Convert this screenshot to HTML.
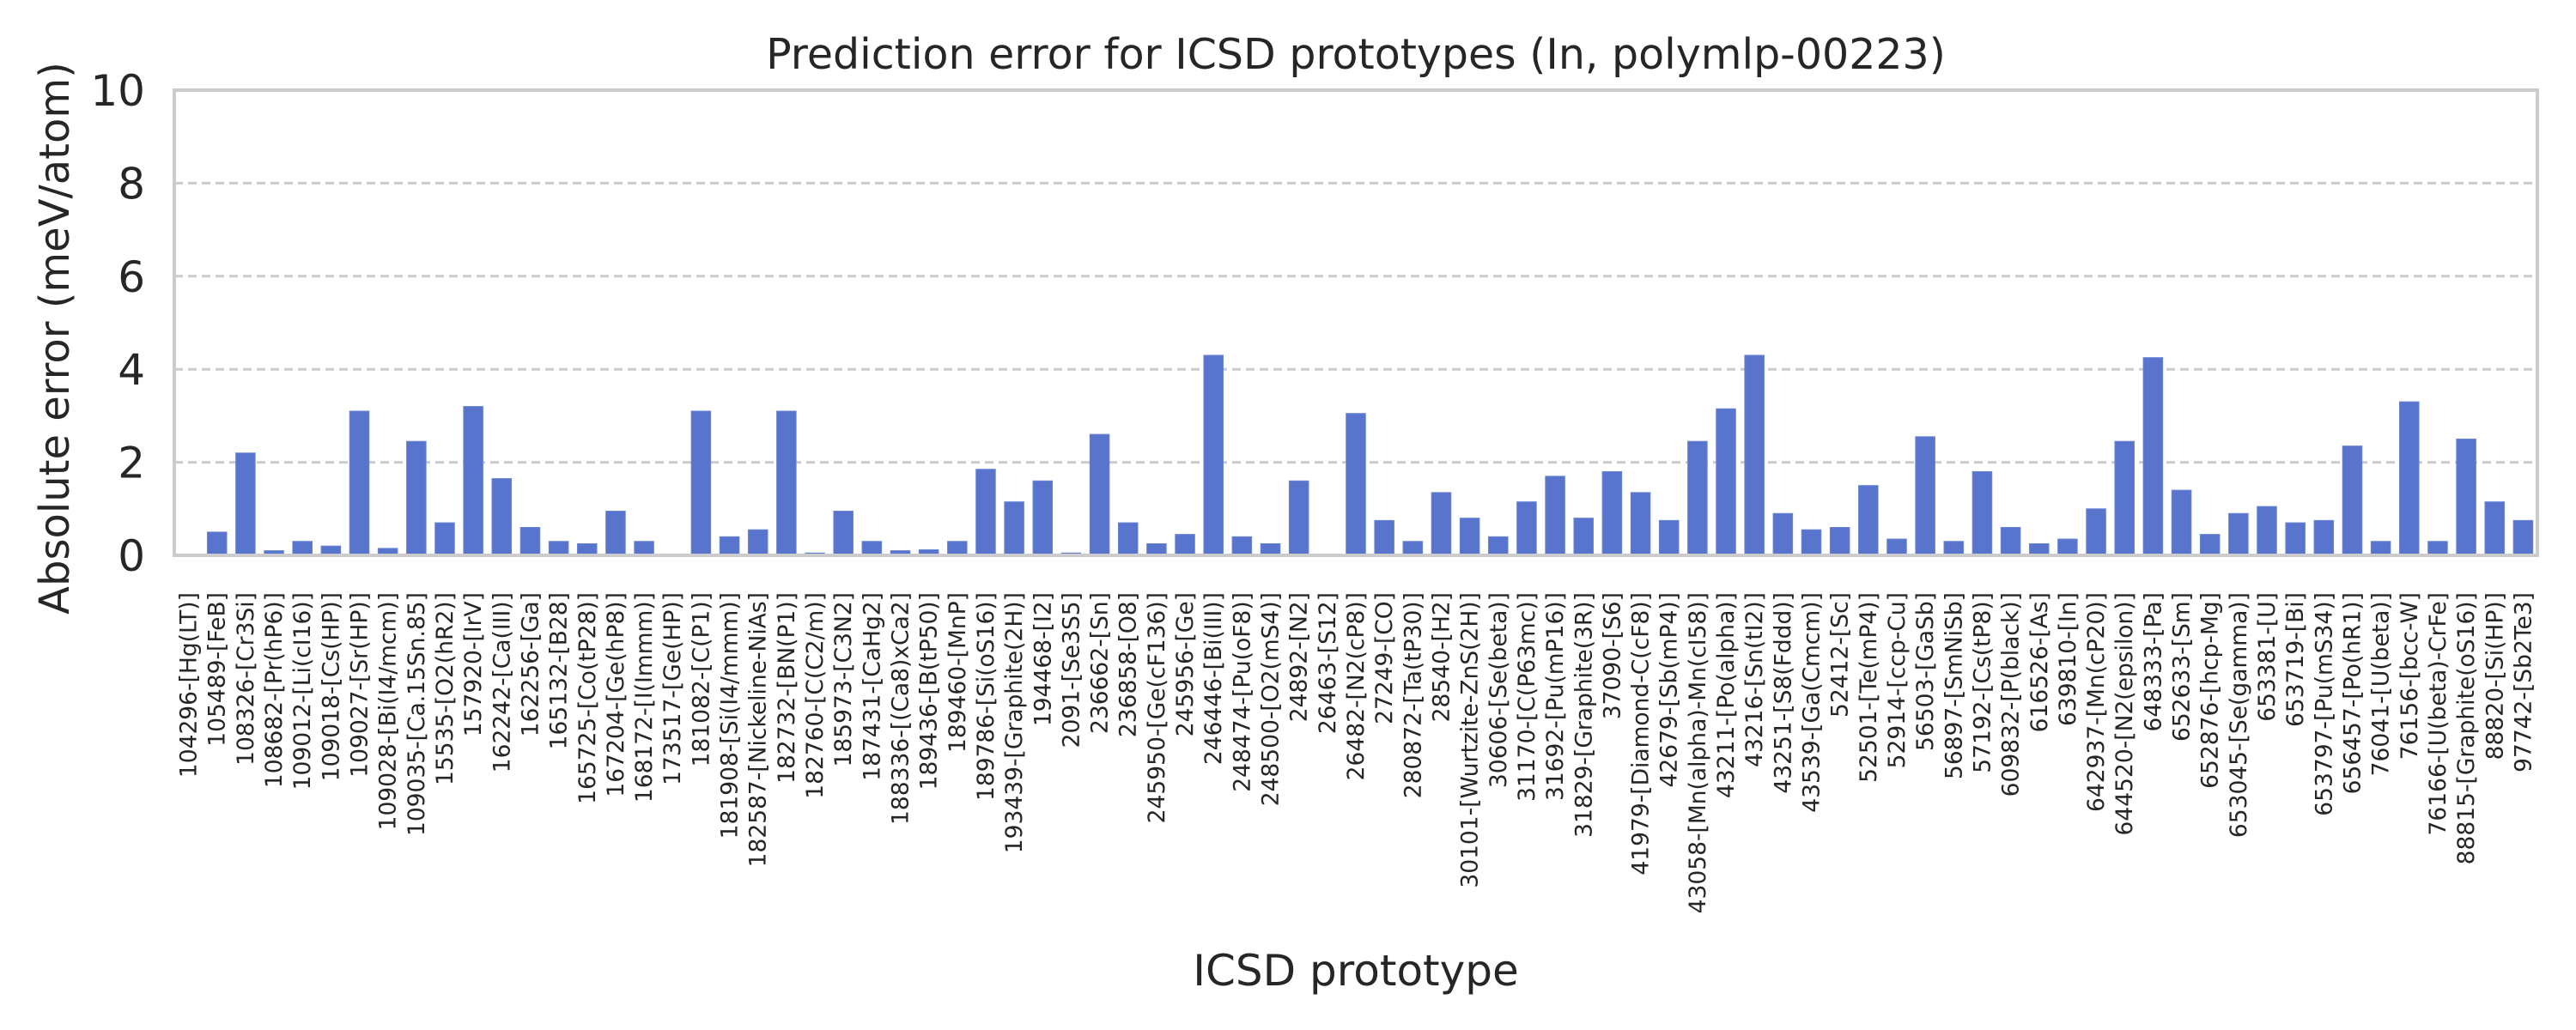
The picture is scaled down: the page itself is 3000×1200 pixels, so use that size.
<!DOCTYPE html>
<html><head><meta charset="utf-8"><style>
html,body{margin:0;padding:0;background:#fff;}
svg{display:block;font-family:"DejaVu Sans","Liberation Sans",sans-serif;}
</style></head><body>
<svg id="chart" width="3000" height="1200" viewBox="0 0 3000 1200" xmlns="http://www.w3.org/2000/svg">
<rect width="3000" height="1200" fill="#fff"/>
<text x="1579" y="80" font-size="49" fill="#262626" text-anchor="middle">Prediction error for ICSD prototypes (In, polymlp-00223)</text>
<text transform="translate(80,394) rotate(-90)" font-size="48" fill="#262626" text-anchor="middle">Absolute error (meV/atom)</text>
<text x="1579" y="1148" font-size="50" fill="#262626" text-anchor="middle">ICSD prototype</text>
<g id="grid"></g><g id="bars"></g><g id="yticks"></g><g id="xticks"></g>
<rect x="203" y="105" width="2752" height="542" fill="none" stroke="#cccccc" stroke-width="4"/>
</svg>
<script>
const categories = ["104296-[Hg(LT)]","105489-[FeB]","108326-[Cr3Si]","108682-[Pr(hP6)]","109012-[Li(cI16)]","109018-[Cs(HP)]","109027-[Sr(HP)]","109028-[Bi(I4/mcm)]","109035-[Ca.15Sn.85]","15535-[O2(hR2)]","157920-[IrV]","162242-[Ca(III)]","162256-[Ga]","165132-[B28]","165725-[Co(tP28)]","167204-[Ge(hP8)]","168172-[I(Immm)]","173517-[Ge(HP)]","181082-[C(P1)]","181908-[Si(I4/mmm)]","182587-[Nickeline-NiAs]","182732-[BN(P1)]","182760-[C(C2/m)]","185973-[C3N2]","187431-[CaHg2]","188336-[(Ca8)xCa2]","189436-[B(tP50)]","189460-[MnP]","189786-[Si(oS16)]","193439-[Graphite(2H)]","194468-[I2]","2091-[Se3S5]","236662-[Sn]","236858-[O8]","245950-[Ge(cF136)]","245956-[Ge]","246446-[Bi(III)]","248474-[Pu(oF8)]","248500-[O2(mS4)]","24892-[N2]","26463-[S12]","26482-[N2(cP8)]","27249-[CO]","280872-[Ta(tP30)]","28540-[H2]","30101-[Wurtzite-ZnS(2H)]","30606-[Se(beta)]","31170-[C(P63mc)]","31692-[Pu(mP16)]","31829-[Graphite(3R)]","37090-[S6]","41979-[Diamond-C(cF8)]","42679-[Sb(mP4)]","43058-[Mn(alpha)-Mn(cI58)]","43211-[Po(alpha)]","43216-[Sn(tI2)]","43251-[S8(Fddd)]","43539-[Ga(Cmcm)]","52412-[Sc]","52501-[Te(mP4)]","52914-[ccp-Cu]","56503-[GaSb]","56897-[SmNiSb]","57192-[Cs(tP8)]","609832-[P(black)]","616526-[As]","639810-[In]","642937-[Mn(cP20)]","644520-[N2(epsilon)]","648333-[Pa]","652633-[Sm]","652876-[hcp-Mg]","653045-[Se(gamma)]","653381-[U]","653719-[Bi]","653797-[Pu(mS34)]","656457-[Po(hR1)]","76041-[U(beta)]","76156-[bcc-W]","76166-[U(beta)-CrFe]","88815-[Graphite(oS16)]","88820-[Si(HP)]","97742-[Sb2Te3]"];
const errors = [0.01,0.5,2.2,0.1,0.3,0.2,3.1,0.15,2.45,0.7,3.2,1.65,0.6,0.3,0.25,0.95,0.3,0.02,3.1,0.4,0.55,3.1,0.05,0.95,0.3,0.1,0.12,0.3,1.85,1.15,1.6,0.05,2.6,0.7,0.25,0.45,4.3,0.4,0.25,1.6,0.02,3.05,0.75,0.3,1.35,0.8,0.4,1.15,1.7,0.8,1.8,1.35,0.75,2.45,3.15,4.3,0.9,0.55,0.6,1.5,0.35,2.55,0.3,1.8,0.6,0.25,0.35,1.0,2.45,4.25,1.4,0.45,0.9,1.05,0.7,0.75,2.35,0.3,3.3,0.3,2.5,1.15,0.75];
const yTicks = [0,2,4,6,8,10];

const NS = "http://www.w3.org/2000/svg";
const L = 203, R = 2955, T = 105, B = 647, yMax = 10;
const band = (R - L) / categories.length;
function xCenter(i){ return L + band * (i + 0.5); }
function yPos(v){ return B - (v / yMax) * (B - T); }
function mk(tag, attrs, parent){ const e = document.createElementNS(NS, tag); for (const k in attrs) e.setAttribute(k, attrs[k]); parent.appendChild(e); return e; }

const grid = document.getElementById('grid');
const yt = document.getElementById('yticks');
yTicks.forEach(v => {
  if (v > 0 && v < yMax) {
    const ln = mk('line', {x1:L, x2:R, y1:yPos(v), y2:yPos(v), stroke:'#cccccc', 'stroke-width':3, 'stroke-dasharray':'10,6'}, grid);
    
    
  }
  const t = mk('text', {x:L - 34, y:yPos(v) + 18, 'font-size':50, fill:'#262626', 'text-anchor':'end'}, yt);
  t.textContent = v;
  
  
});

const bars = document.getElementById('bars');
const xt = document.getElementById('xticks');
const bw = band * 0.68;
categories.forEach((c, i) => {
  const v = errors[i];
  const r = mk('rect', {x:xCenter(i) - bw/2, y:yPos(v), width:bw, height:B - yPos(v), fill:'#5874cc', stroke:'#6a84d4', 'stroke-width':1}, bars);
  
  
  const t = mk('text', {transform:'translate(' + (xCenter(i) + 9) + ',690) rotate(-90)', 'font-size':26.5, fill:'#262626', 'text-anchor':'end'}, xt);
  t.textContent = c;
  
  
});
</script>
</body></html>
